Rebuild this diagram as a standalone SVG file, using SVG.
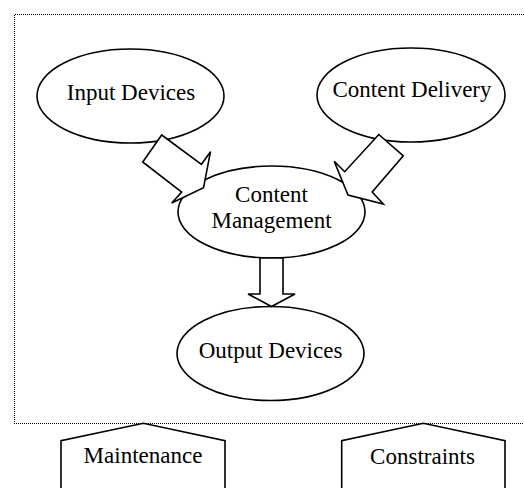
<svg xmlns="http://www.w3.org/2000/svg" width="524" height="488" viewBox="0 0 524 488">
  <style>
    .shape { fill: #fff; stroke: #000; stroke-width: 1.6; stroke-linejoin: miter; }
    .label { font-family: "Liberation Serif", "Times New Roman", serif; font-size: 23px; fill: #000; text-anchor: middle; }
    .frame { fill: none; stroke: #000; stroke-width: 1.1; stroke-dasharray: 1 1; }
  </style>

  <!-- system boundary, open on the right -->
  <path class="frame" d="M524,14.5 H14.5 V423.5 H524"/>

  <g id="input-devices">
    <ellipse class="shape" cx="130.5" cy="96" rx="93.5" ry="47"/>
    <text class="label" x="131" y="100">Input Devices</text>
  </g>

  <g id="content-delivery">
    <ellipse class="shape" cx="411" cy="95" rx="94" ry="47"/>
    <text class="label" x="412" y="97">Content Delivery</text>
  </g>

  <g id="content-management">
    <ellipse class="shape" cx="271.5" cy="212" rx="93.5" ry="46"/>
    <text class="label" x="271.5" y="202">Content</text>
    <text class="label" x="271.5" y="228">Management</text>
  </g>

  <g id="output-devices">
    <ellipse class="shape" cx="270.5" cy="353.5" rx="93.5" ry="47"/>
    <text class="label" x="270.5" y="358">Output Devices</text>
  </g>

  <g id="maintenance">
    <path class="shape" d="M61,492 V440.7 L143.3,423.3 L225,440.7 V492"/>
    <text class="label" x="143" y="463">Maintenance</text>
  </g>

  <g id="constraints">
    <path class="shape" d="M341.7,492 V440.7 L423.3,423.3 L505,440.7 V492"/>
    <text class="label" x="422.5" y="464">Constraints</text>
  </g>

  <!-- block arrows between components -->
  <g id="connectors">
    <polygon class="shape" points="161.7,135 201.4,164.3 210.5,151.7 203.5,187.8 171.7,203 181.7,192 142.7,162"/>
    <polygon class="shape" points="378.8,134.5 403.3,155.8 372.2,192 383.3,204 348,195 334.2,161.2 344.7,171.7"/>
    <polygon class="shape" points="260,258 283,258 283,294 295,294 271.5,306.5 248,294 260,294"/>
  </g>
</svg>
